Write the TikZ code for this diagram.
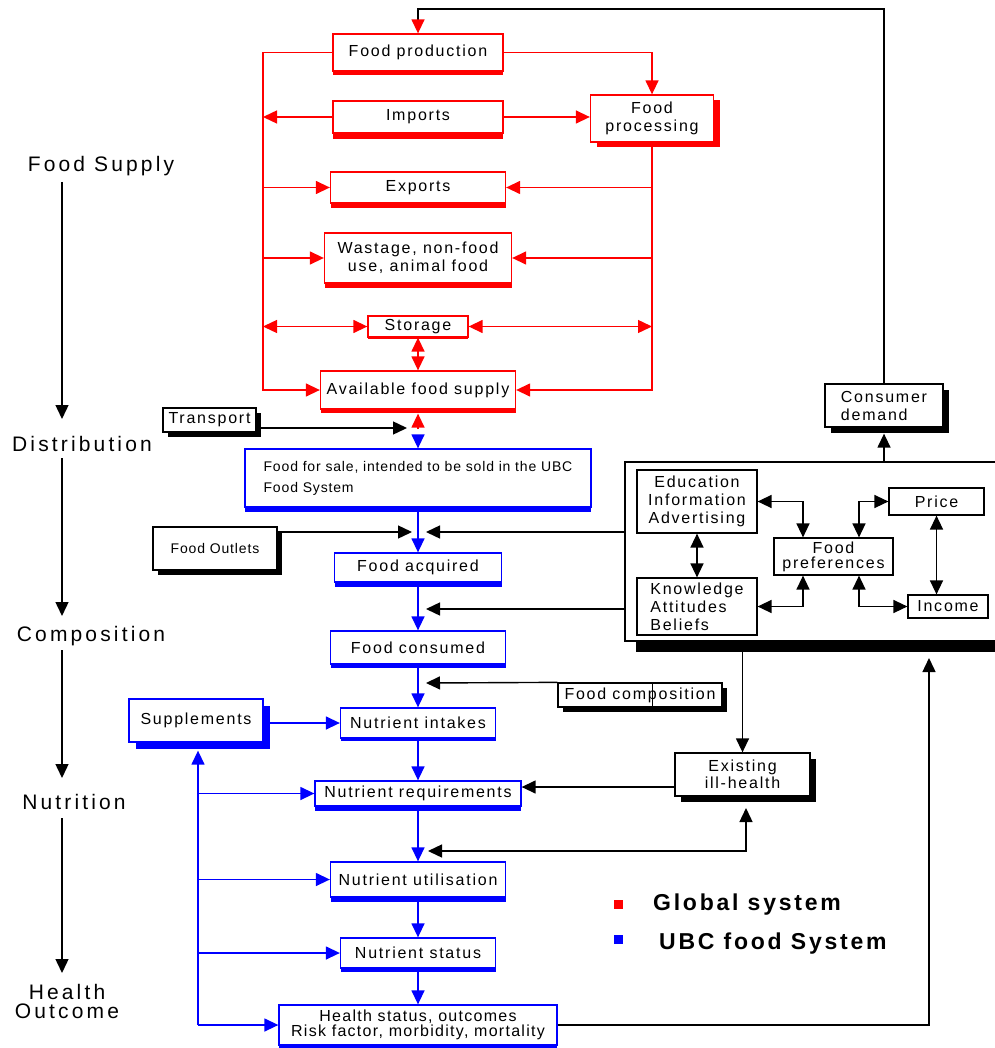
\documentclass[tikz,border=0pt]{standalone}
\usepackage{fontspec}
\setmainfont{Liberation Sans}
\newfontfamily\boxfont{Liberation Sans}[LetterSpace=11]
\newfontfamily\healthfont{Liberation Sans}[LetterSpace=8]
\newfontfamily\smallfont{Liberation Sans}[LetterSpace=6]
\newfontfamily\stagefont{Liberation Sans}[LetterSpace=15]
\newfontfamily\keyfont{Liberation Sans}[LetterSpace=12]
\usetikzlibrary{arrows.meta,shadows}

\begin{document}
\begin{tikzpicture}[x=1pt, y=-1pt,
	>={Triangle[length=14pt,width=13pt]},
	nbox/.style={draw, fill=white, line width=1.3pt, inner sep=0pt, align=center,
		font=\boxfont\fontsize{16}{18}\selectfont},
	redbox/.style={nbox, draw=red, drop shadow={shadow xshift=0pt, shadow yshift=-#1, opacity=1, fill=red}},
	redbox/.default=5pt,
	redshbox/.style={nbox, draw=red, drop shadow={shadow xshift=6pt, shadow yshift=-5pt, opacity=1, fill=red}},
	bluebox/.style={nbox, draw=blue, drop shadow={shadow xshift=0pt, shadow yshift=-#1, opacity=1, fill=blue}},
	bluebox/.default=5pt,
	blueshbox/.style={nbox, draw=blue, drop shadow={shadow xshift=7pt, shadow yshift=-7pt, opacity=1, fill=blue}},
	blkbox/.style={nbox, drop shadow={shadow xshift=#1, shadow yshift=-#1, opacity=1, fill=black}},
	blkbox/.default=6pt,
	plainbox/.style={nbox, line width=1.2pt},
	redline/.style={red, line width=1.4pt},
	blueline/.style={blue, line width=1.4pt},
	blkline/.style={black, line width=1.4pt},
	stage/.style={font=\stagefont\fontsize{21}{19}\selectfont, inner sep=2pt, align=center},
	key/.style={font=\keyfont\bfseries\fontsize{23}{23}\selectfont, inner sep=0pt}]

	\useasboundingbox (0,0) rectangle (994,1048);

	% Stages on the left
	\node[stage] (fsup) at (101,166) {Food Supply};
	\node[stage] (dist) at (82,444) {Distribution};
	\node[stage] (comp) at (91,636) {Composition};
	\node[stage] (nutr) at (74,802) {Nutrition};
	\node[stage] (hout) at (67,1001) {Health\\Outcome};
	\coordinate (s1) at (62,182);  \coordinate (e1) at (62,419);
	\coordinate (s2) at (62,458);  \coordinate (e2) at (62,616);
	\coordinate (s3) at (62,650);  \coordinate (e3) at (62,778);
	\coordinate (s4) at (62,818);  \coordinate (e4) at (62,973);
	\draw[blkline,->] (s1) -- (e1);
	\draw[blkline,->] (s2) -- (e2);
	\draw[blkline,->] (s3) -- (e3);
	\draw[blkline,->] (s4) -- (e4);

	% Global system (red)
	\node[redbox=4pt, minimum width=170pt, minimum height=37pt] (prod) at (418,52.5) {Food production};
	\node[redbox=6pt, minimum width=170pt, minimum height=32pt] (imp) at (418,117) {Imports};
	\node[redshbox, minimum width=123pt, minimum height=47pt] (proc) at (652,118.5) {Food\\processing};
	\node[redbox, minimum width=175pt, minimum height=31pt] (exp) at (418,187.5) {Exports};
	\node[redbox, minimum width=187pt, minimum height=50pt] (waste) at (418,258) {Wastage, non-food\\use, animal food};
	\node[redbox=2pt, minimum width=100pt, minimum height=21pt] (stor) at (418,326.5) {Storage};
	\node[redbox=4pt, minimum width=195pt, minimum height=38pt] (avail) at (418,390) {Available food supply};

	% Left and right red rails
	\coordinate (rl) at (263,52);
	\draw[redline,->] (prod.west) -- (prod.west -| rl) -- (avail.west -| rl) -- (avail.west);
	\draw[redline,->] (imp.west) -- (imp.west -| rl);
	\draw[redline,->] (exp.west -| rl) -- (exp.west);
	\draw[redline,->] (waste.west -| rl) -- (waste.west);
	\draw[redline,<->] (stor.west -| rl) -- (stor.west);
	\draw[redline,->] (proc.south) -- (avail.east -| proc.south) -- (avail.east);
	\draw[redline,->] (exp.east -| proc.south) -- (exp.east);
	\draw[redline,->] (waste.east -| proc.south) -- (waste.east);
	\draw[redline,<->] (stor.east) -- (stor.east -| proc.south);
	\draw[redline,->] (imp.east) -- (imp.east -| proc.west);
	\draw[redline,->] (prod.east) -| (proc.north);
	\draw[redline,<->] (stor.south) -- (avail.north);

	% Factors box
	\node[blkbox=10.5pt, minimum width=375pt, minimum height=179pt] (factors) at (812.5,551.5) {};
	\node[plainbox, minimum width=120pt, minimum height=63pt] (edu) at (697,501.5) {Education\\Information\\Advertising};
	\node[plainbox, minimum width=120pt, minimum height=57pt, align=left] (know) at (697,606.5) {Knowledge\\Attitudes\\Beliefs};
	\node[plainbox, minimum width=119pt, minimum height=37pt, font=\boxfont\fontsize{16}{15}\selectfont] (pref) at (833.5,556.5) {Food\\preferences};
	\node[plainbox, minimum width=95pt, minimum height=27pt] (price) at (936.5,501.5) {Price};
	\node[plainbox, minimum width=80pt, minimum height=23pt] (income) at (948,606.5) {Income};
	\draw[blkline,<->] (edu.south) -- (know.north);
	\draw[blkline,<->] (edu.east) -| ([xshift=-30.5pt]pref.north);
	\draw[blkline,<->] (know.east) -| ([xshift=-30.5pt]pref.south);
	\draw[blkline,<->] ([xshift=25.5pt]pref.north) |- (price.west);
	\draw[blkline,<->] ([xshift=25.5pt]pref.south) |- (income.west);
	\draw[blkline,<->] (price.south) -- (price.south |- income.north);

	% Consumer demand and feedback to production
	\node[blkbox=6pt, minimum width=118pt, minimum height=43pt, align=left] (cdemand) at (884,405.5) {Consumer\\demand};
	\draw[blkline,->] (cdemand.south |- factors.north) -- ([yshift=-6pt]cdemand.south);
	\coordinate (top) at (418,9);
	\draw[blkline,-{Triangle[length=14pt,width=13pt,color=red]}] (cdemand.north) |- (top) -- (prod.north);

	% UBC food system (blue)
	\node[bluebox, minimum width=346pt, minimum height=58pt, align=left, font=\smallfont\fontsize{14}{21}\selectfont] (sale) at (418,478) {Food for sale, intended to be sold in the UBC\\Food System};
	\node[bluebox=5pt, minimum width=167pt, minimum height=29pt] (acq) at (418,567.5) {Food acquired};
	\node[bluebox=4pt, minimum width=175pt, minimum height=33pt] (cons) at (418,647.5) {Food consumed};
	\node[bluebox=3pt, minimum width=155pt, minimum height=30pt] (intake) at (418,723) {Nutrient intakes};
	\node[bluebox=5pt, minimum width=206pt, minimum height=25pt] (req) at (418,793.5) {Nutrient requirements};
	\node[bluebox=5pt, minimum width=175pt, minimum height=35pt] (util) at (418,879.5) {Nutrient utilisation};
	\node[bluebox=4pt, minimum width=155pt, minimum height=30pt] (status) at (418,953) {Nutrient status};
	\node[bluebox=3pt, minimum width=278pt, minimum height=40pt, font=\healthfont\fontsize{16}{15}\selectfont] (health) at (418,1025) {Health status, outcomes\\Risk factor, morbidity, mortality};
	\node[blueshbox, minimum width=134pt, minimum height=43pt] (supp) at (196,720.5) {Supplements};

	% Main blue flow
	\draw[blueline,->] (sale.south) -- (acq.north);
	\draw[blueline,->] (acq.south) -- (cons.north);
	\draw[blueline,->] (cons.south) -- (intake.north);
	\draw[blueline,->] (intake.south) -- (req.north);
	\draw[blueline,->] (req.south) -- (util.north);
	\draw[blueline,->] (util.south) -- (status.north);
	\draw[blueline,->] (status.south) -- (health.north);

	% Supplements rail
	\coordinate (sl) at (198,0);
	\coordinate (supptip) at ([yshift=-8pt]supp.south);
	\draw[blueline,->] (health.west -| sl) -- (supptip -| sl);
	\draw[blueline,->] (req.west -| sl) -- (req.west);
	\draw[blueline,->] (util.west -| sl) -- (util.west);
	\draw[blueline,->] (status.west -| sl) -- (status.west);
	\draw[blueline,->] (health.west -| sl) -- (health.west);
	\draw[blueline,->] (supp.east |- intake.west) -- (intake.west);

	% Transport and outlets
	\node[blkbox=5pt, minimum width=93pt, minimum height=24pt] (trans) at (209.5,420) {Transport};
	\coordinate (trin) at (407,428);
	\draw[blkline,->] ([yshift=-8pt]trans.east) -- (trin);
	\coordinate (rd) at (418,429);
	\coordinate (bd) at (418,435);
	\draw[redline,->] (rd) -- ([yshift=-4pt]avail.south);
	\draw[blueline,->] (bd) -- (sale.north);
	\node[blkbox=5pt, minimum width=124pt, minimum height=43pt, font=\smallfont\fontsize{14}{15}\selectfont] (outlet) at (215,548.5) {Food Outlets};
	\coordinate (otip) at (412,532);
	\draw[blkline,->] ([yshift=16.5pt]outlet.east) -- (otip);
	\coordinate (ftip1) at (426,532);
	\coordinate (ftip2) at (426,609);
	\draw[blkline,->] (ftip1 -| factors.west) -- (ftip1);
	\draw[blkline,->] (ftip2 -| factors.west) -- (ftip2);

	% Food composition
	\node[blkbox=5pt, minimum width=164pt, minimum height=24pt] (fcomp) at (640,695) {Food composition};
	\draw[line width=1pt] ([xshift=12pt]fcomp.north) -- ([xshift=12pt]fcomp.south);
	\coordinate (ctip) at (426,683);
	\draw[blkline,->] (fcomp.north west) -- (ctip);

	% Existing ill-health
	\node[blkbox=6pt, minimum width=135pt, minimum height=43pt, font=\boxfont\fontsize{16}{17}\selectfont] (illh) at (742.5,774.5) {Existing\\ill-health};
	\draw[blkline,->] (illh.north |- factors.south) -- (illh.north);
	\coordinate (ih) at ([yshift=-12.5pt]illh.west);
	\draw[blkline,->] (ih) -- (ih -| req.east);
	\coordinate (ilt) at (746,808);
	\coordinate (ub) at (746,851);
	\coordinate (utip) at (428,851);
	\draw[blkline,<->] (ilt) -- (ub) -- (utip);

	% Outcome back to factors
	\coordinate (hr) at (929,1025);
	\coordinate (ftop) at (929,658);
	\draw[blkline,->] (health.east) -- (hr) -- (ftop);

	% Key
	\node[fill=red, minimum size=9pt, inner sep=0pt] (kred) at (618,904) {};
	\node[fill=blue, minimum size=9pt, inner sep=0pt] (kblue) at (618,939) {};
	\node[key, anchor=base west] (kglob) at (653,910) {Global system};
	\node[key, anchor=base west] (kubc) at (659,949) {UBC food System};

\end{tikzpicture}
\end{document}
